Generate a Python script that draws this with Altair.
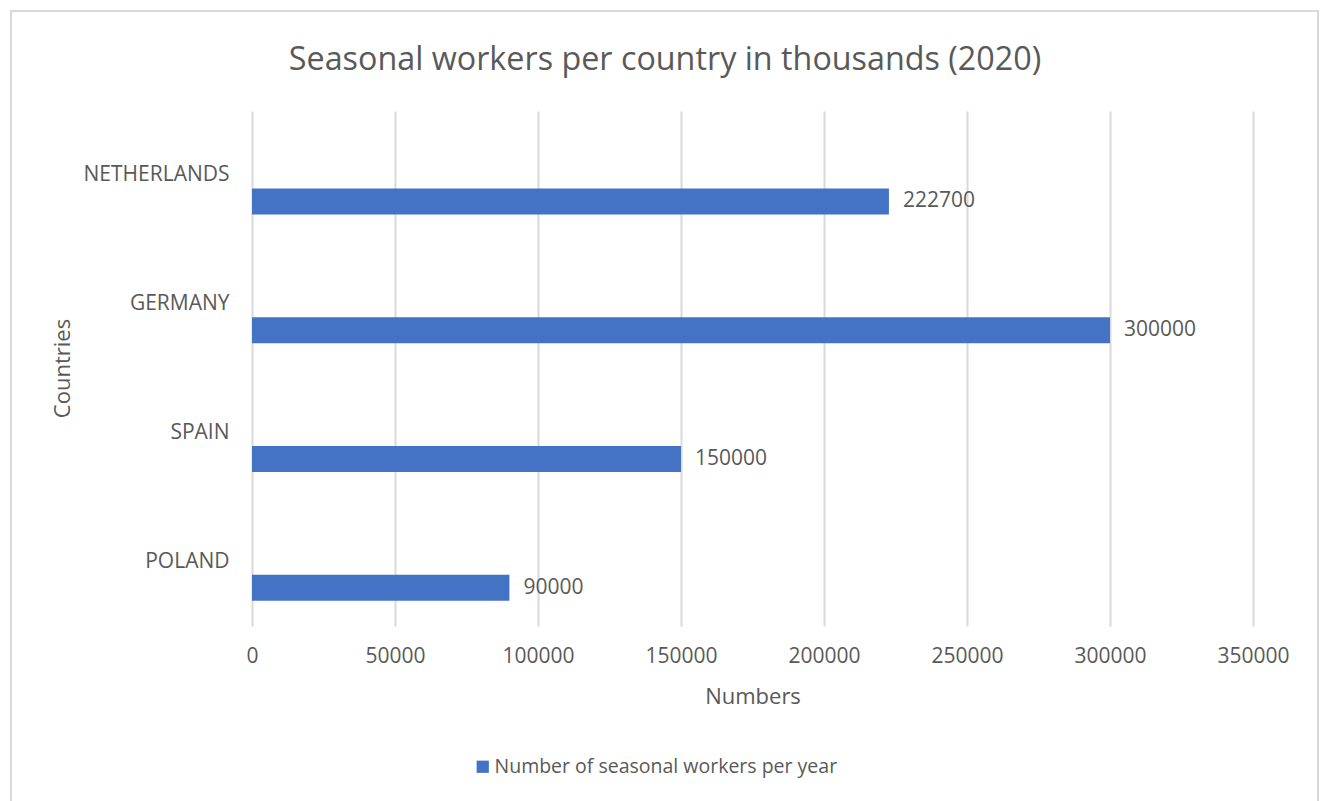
import altair as alt
import pandas as pd

countries = ["NETHERLANDS", "GERMANY", "SPAIN", "POLAND"]
values = [222700, 300000, 150000, 90000]
series_name = "Number of seasonal workers per year"
x_ticks = [0, 50000, 100000, 150000, 200000, 250000, 300000, 350000]

df = pd.DataFrame({"country": countries, "value": values, "series": [series_name] * len(countries)})

FONT = "Open Sans"
GREY = "#595959"
BLUE = "#4472C4"

W, H = 1001, 515
PL, PT = 252, 111

y_enc = alt.Y("country:N", sort=countries,
              scale=alt.Scale(paddingInner=0, paddingOuter=0),
              axis=alt.Axis(title="Countries", domain=False, ticks=False, grid=False,
                            labelFont=FONT, labelFontSize=21, labelColor=GREY,
                            labelPadding=23, labelAlign="right",
                            titleFont=FONT, titleFontSize=22, titleColor=GREY,
                            titleFontWeight="normal",
                            titleX=62 - PL, titleY=368 - PT, titleAngle=-90,
                            titleAlign="center", titleBaseline="middle"))

x_enc = alt.X("value:Q",
              scale=alt.Scale(domain=[0, 350000], nice=False),
              axis=alt.Axis(title="Numbers", values=x_ticks, format="d",
                            domain=False, ticks=False, grid=True,
                            gridColor="#d9d9d9", gridWidth=2,
                            labelFlush=False,
                            labelFont=FONT, labelFontSize=21, labelColor=GREY,
                            labelPadding=19,
                            titleFont=FONT, titleFontSize=22, titleColor=GREY,
                            titleFontWeight="normal", titlePadding=20))

bars = alt.Chart(df).mark_bar(height=26, yOffset=26).encode(
    x=x_enc,
    y=y_enc,
    color=alt.Color("series:N", scale=alt.Scale(range=[BLUE]),
                    legend=alt.Legend(title=None, orient="none",
                                      legendX=473 - PL, legendY=757 - PT,
                                      symbolType="square", symbolSize=150,
                                      symbolStrokeWidth=0, symbolOpacity=1,
                                      labelOffset=2,
                                      labelFont=FONT, labelFontSize=19.5,
                                      labelColor=GREY, labelLimit=600)),
)

labels = alt.Chart(df).mark_text(align="left", baseline="middle", dx=14, yOffset=26,
                                 font=FONT, fontSize=21, color=GREY).encode(
    x="value:Q",
    y=alt.Y("country:N", sort=countries),
    text=alt.Text("value:Q", format="d"),
)

border = alt.Chart(df).mark_rect(fill=None, stroke="#d9d9d9", strokeWidth=2).encode(
    x=alt.value(11 - PL), x2=alt.value(1318 - PL),
    y=alt.value(11 - PT), y2=alt.value(820 - PT),
)

chart = alt.layer(border, bars, labels).properties(
    width=W, height=H,
    background="white",
    title=alt.TitleParams("Seasonal workers per country in thousands (2020)",
                          font=FONT, fontSize=32.3, color=GREY, fontWeight="normal",
                          anchor="middle", dx=665 - (PL + W / 2), dy=103, offset=37),
    padding={"left": PL, "top": PT, "right": 1324 - PL - W, "bottom": 801 - PT - H},
    autosize=alt.AutoSizeParams(type="none"),
).configure_view(stroke=None)

chart.save("out.html", embed_options={"renderer": "svg", "actions": False})
